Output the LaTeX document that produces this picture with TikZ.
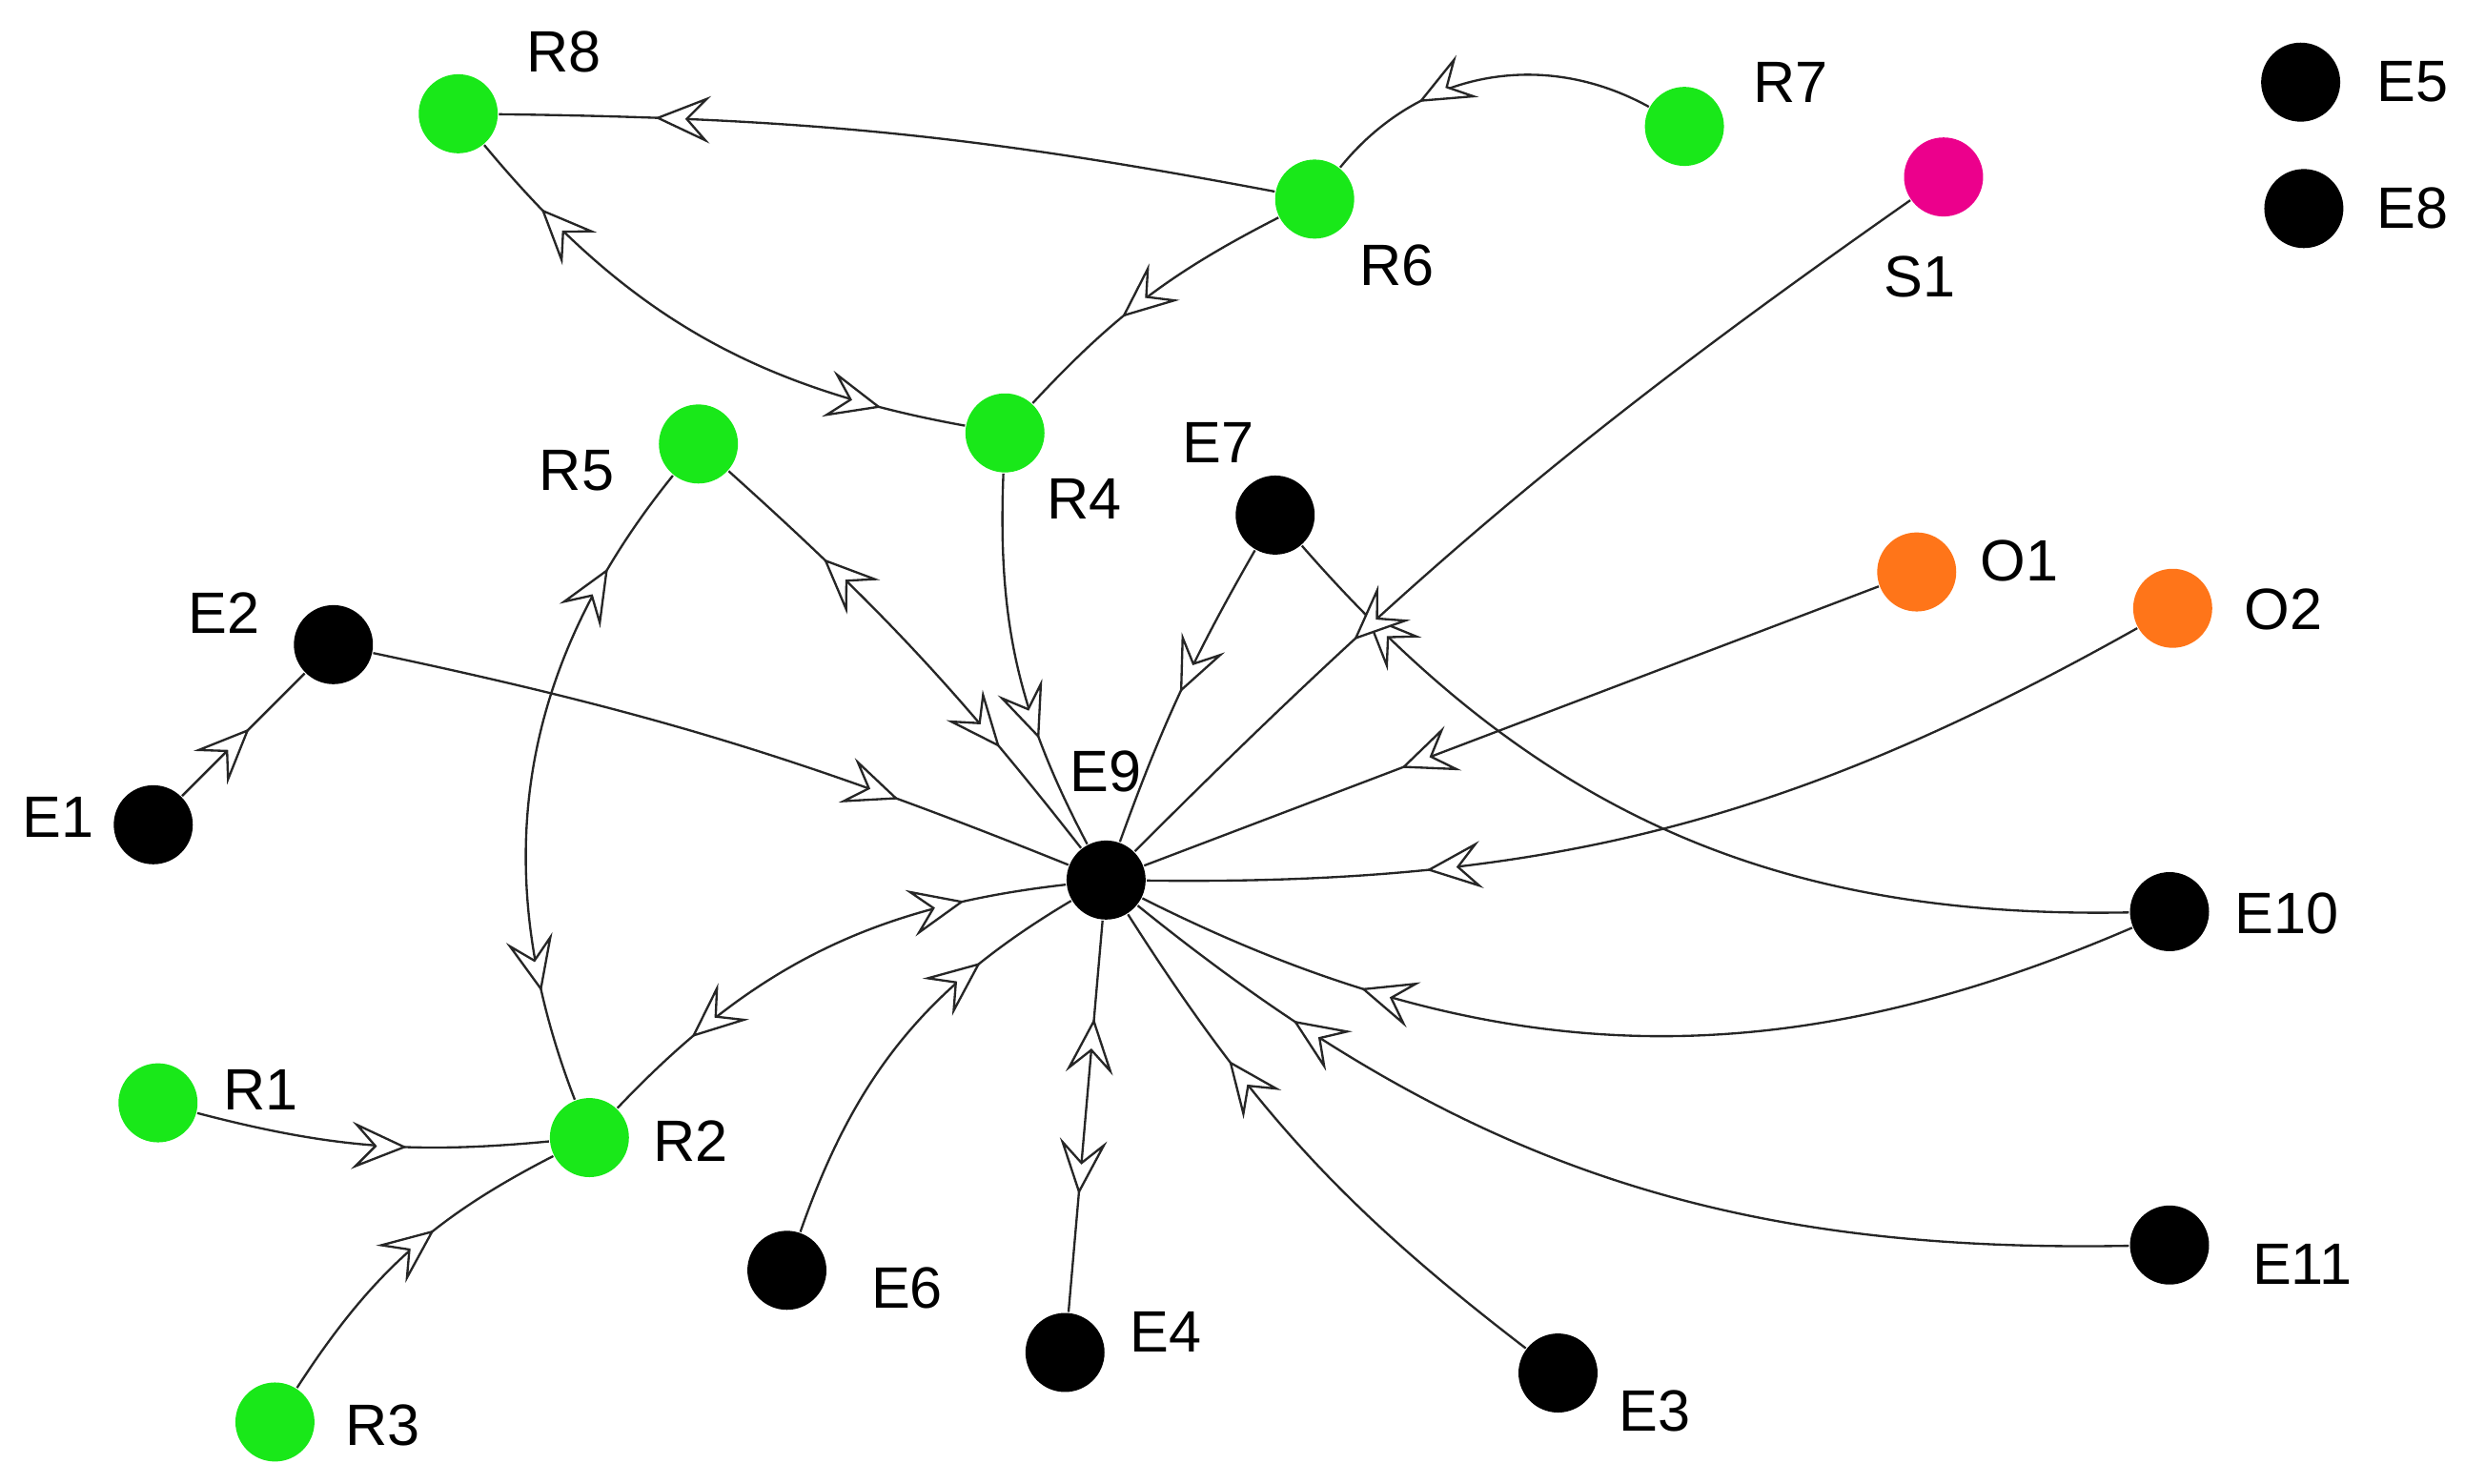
\documentclass[tikz,border=0pt]{standalone}
\usepackage{fontspec}
\setmainfont{Liberation Sans}
\usetikzlibrary{arrows.meta, decorations.markings}
\tikzset{
vertex/.style={circle, minimum size=0.5cm, inner sep=0pt}, % plain dot
gnode/.style={vertex, fill=green!90!black!90},
bnode/.style={vertex, fill=black},
pnode/.style={vertex, fill=magenta},
onode/.style={vertex, fill=orange!80!red!90},
lbl/.style={font=\fontsize{10.5}{12}\selectfont},
chev/.tip={Stealth[open, fill=white, length=3.5mm, width=3mm, inset=1.4mm]},
mid/.style={postaction={decorate, decoration={markings, mark=at position #1 with {\arrow{chev}}}}},
back/.style={postaction={decorate, decoration={markings, mark=at position #1 with {\arrowreversed{chev}}}}},
edge/.style={thin, draw=black!85},
}
\begin{document}
\begin{tikzpicture}[x=0.01cm, y=-0.01cm]
    \useasboundingbox (0,0) rectangle (1560,939);
    % nodes
    \node[gnode] (r8) at (290,72) {};
    \node[gnode] (r7) at (1066,80) {};
    \node[gnode] (r6) at (832,126) {};
    \node[pnode] (s1) at (1230,112) {};
    \node[bnode] (e5) at (1456,52) {};
    \node[bnode] (e8) at (1458,132) {};
    \node[gnode] (r5) at (442,281) {};
    \node[gnode] (r4) at (636,274) {};
    \node[bnode] (e7) at (807,326) {};
    \node[onode] (o1) at (1213,362) {};
    \node[onode] (o2) at (1375,385) {};
    \node[bnode] (e2) at (211,408) {};
    \node[bnode] (e1) at (97,522) {};
    \node[bnode] (e9) at (700,557) {};
    \node[bnode] (e10) at (1373,577) {};
    \node[gnode] (r1) at (100,698) {};
    \node[gnode] (r2) at (373,720) {};
    \node[bnode] (e6) at (498,804) {};
    \node[bnode] (e4) at (674,856) {};
    \node[bnode] (e11) at (1373,788) {};
    \node[bnode] (e3) at (986,869) {};
    \node[gnode] (r3) at (174,900) {};
    % labels
    \foreach \t/\x/\y in {R8/357/33, R7/1133/52, R6/884/168, S1/1215/175, E5/1527/52,
        E8/1527/132, R5/365/298, R4/686/316, E7/771/280, O1/1278/355, O2/1445/386,
        E2/142/388, E1/37/517, E9/700/488, E10/1447/578, R1/165/690, R2/437/722,
        E6/574/815, E4/738/843, E11/1457/800, E3/1047/893, R3/242/902}
        \node[lbl] at (\x,\y) {\t};
    % edges
    \draw[edge, mid=0.8] (r6) to[bend right=5] (r8);
    \draw[edge, mid=0.7] (r7) to[bend right=40] (r6);
    \draw[edge, back=0.15, mid=0.85] (r8) to[bend right=20] (r4);
    \draw[edge, mid=0.6] (r6) to[bend right=10] (r4);
    \draw[edge, mid=0.7] (r4) to[bend right=15] (e9);
    \draw[edge, back=0.25, mid=0.75] (r5) to[bend left=5] (e9);
    \draw[edge, back=0.17, mid=0.83] (r2) to[bend left=30] (r5);
    \draw[edge, mid=0.5] (e7) to[bend right=5] (e9);
    \draw[edge, mid=0.9] (e10) to[bend left=25] (e7);
    \draw[edge, mid=0.7] (s1) to[bend right=5] (e9);
    \draw[edge, mid=0.65] (o1) to (e9);
    \draw[edge, mid=0.73] (o2) to[bend left=15] (e9);
    \draw[edge, mid=0.77] (e10) to[bend left=25] (e9);
    \draw[edge, mid=0.82] (e11) to[bend left=20] (e9);
    \draw[edge, mid=0.7] (e3) to[bend left=10] (e9);
    \draw[edge, back=0.25, mid=0.7] (e9) to (e4);
    \draw[edge, mid=0.75] (e6) to[bend left=20] (e9);
    \draw[edge, back=0.2, mid=0.8] (r2) to[bend left=20] (e9);
    \draw[edge, mid=0.75] (e2) to[bend left=5] (e9);
    \draw[edge, mid=0.55] (e1) to (e2);
    \draw[edge, mid=0.6] (r1) to[bend right=10] (r2);
    \draw[edge, mid=0.6] (r3) to[bend left=15] (r2);
\end{tikzpicture}
\end{document}
